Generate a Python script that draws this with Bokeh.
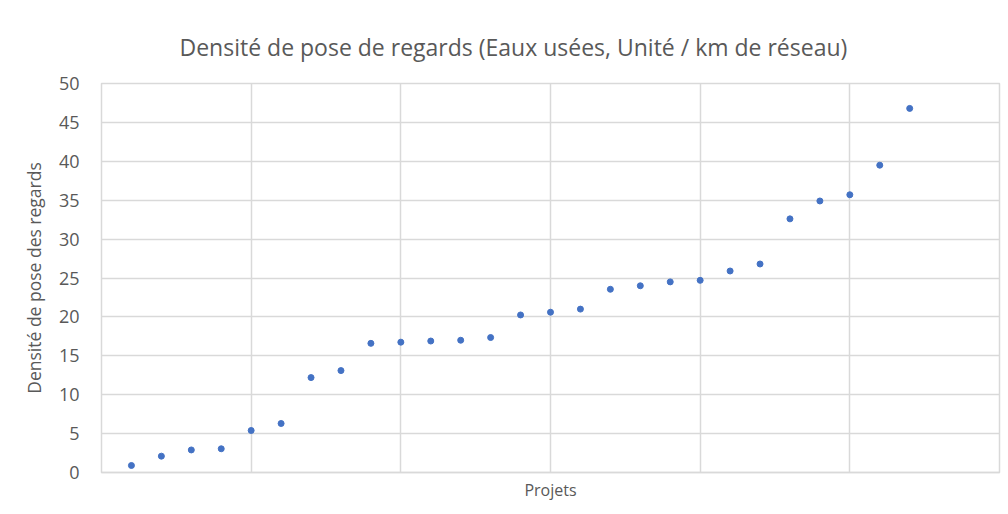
from bokeh.plotting import figure
from bokeh.models import ColumnDataSource, FixedTicker, Range1d
from bokeh.embed import file_html
from bokeh.resources import INLINE

projets = list(range(1, 28))
densite = [0.9, 2.1, 2.9, 3.05, 5.4, 6.3, 12.2, 13.1, 16.6, 16.75, 16.9, 17.0, 17.35,
           20.25, 20.6, 21.0, 23.55, 24.0, 24.5, 24.7, 25.9, 26.8, 32.6, 34.9, 35.7, 39.5, 46.8]
y_ticks = [0, 5, 10, 15, 20, 25, 30, 35, 40, 45, 50]
x_grid = [0, 5, 10, 15, 20, 25, 30]

FONT = "Open Sans"
GREY = "#595959"
LINE = "#d9d9d9"

p = figure(width=1008, height=514, output_backend="svg", toolbar_location=None,
           x_range=Range1d(0, 30), y_range=Range1d(0, 50),
           title="Densité de pose de regards (Eaux usées, Unité / km de réseau)",
           min_border_left=101, min_border_right=9, min_border_bottom=42, min_border_top=83)

p.title.align = "left"
p.title.text_font = FONT
p.title.text_font_size = "23px"
p.title.text_font_style = "normal"
p.title.text_color = GREY
p.title.offset = 78
p.title.standoff = 41

src = ColumnDataSource(dict(x=projets, y=densite))
p.scatter("x", "y", source=src, size=6, color="#4472c4", line_color="#4472c4")

p.xaxis.ticker = FixedTicker(ticks=x_grid)
p.xaxis.major_label_text_font_size = "0px"
p.xaxis.major_label_text_color = None
p.xaxis.major_tick_line_color = None
p.xaxis.minor_tick_line_color = None
p.xaxis.axis_line_color = LINE
p.xaxis.axis_line_width = 1.5
p.xaxis.axis_label = "Projets"
p.xaxis.axis_label_text_font = FONT
p.xaxis.axis_label_text_font_size = "16px"
p.xaxis.axis_label_text_font_style = "normal"
p.xaxis.axis_label_text_color = GREY
p.xaxis.axis_label_standoff = 0
p.xaxis.major_label_standoff = 0

p.yaxis.ticker = FixedTicker(ticks=y_ticks)
p.yaxis.major_label_text_font = FONT
p.yaxis.major_label_text_font_size = "18px"
p.yaxis.major_label_text_color = GREY
p.yaxis.major_tick_line_color = None
p.yaxis.minor_tick_line_color = None
p.yaxis.axis_line_color = None
p.yaxis.major_label_standoff = 16
p.yaxis.axis_label = "Densité de pose des regards"
p.yaxis.axis_label_text_font = FONT
p.yaxis.axis_label_text_font_size = "17.5px"
p.yaxis.axis_label_text_font_style = "normal"
p.yaxis.axis_label_text_color = GREY
p.yaxis.axis_label_standoff = 10

p.xgrid.ticker = FixedTicker(ticks=x_grid)
p.ygrid.ticker = FixedTicker(ticks=y_ticks)
p.grid.grid_line_color = LINE
p.grid.grid_line_width = 1.5
p.outline_line_color = LINE
p.outline_line_width = 1.5
p.border_fill_color = "white"
p.background_fill_color = "white"

open("out.html", "w").write(file_html(p, INLINE))
